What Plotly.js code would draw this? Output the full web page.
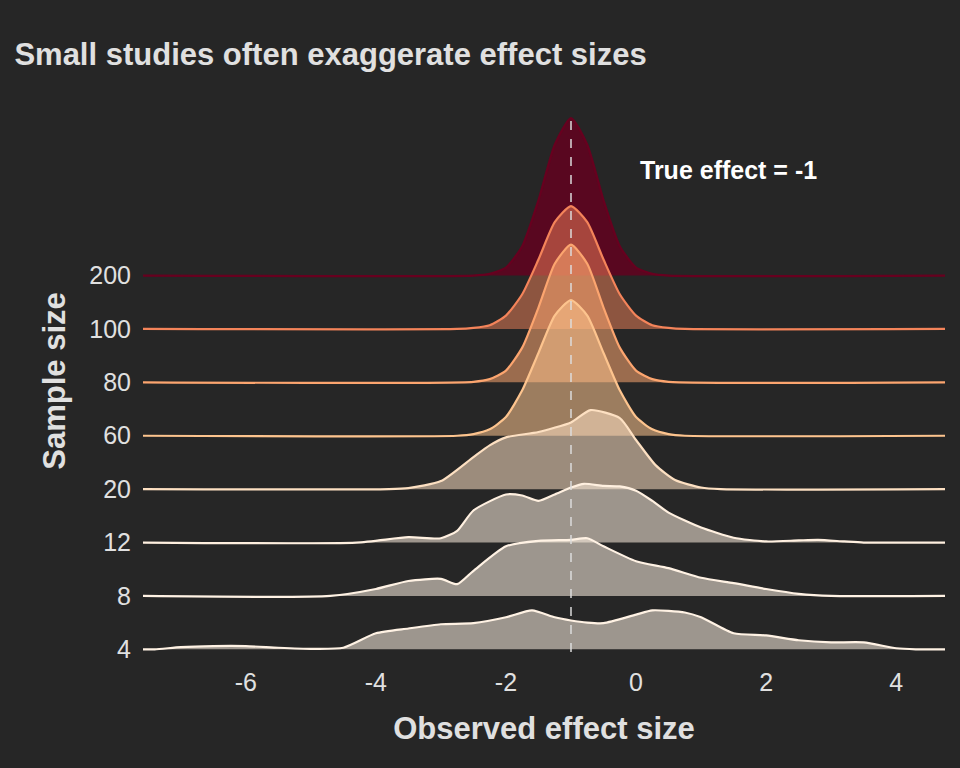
<!DOCTYPE html>
<html><head><meta charset="utf-8">
<script src="https://cdn.plot.ly/plotly-3.0.1.min.js"></script>
<style>body{margin:0;background:#262626}</style></head>
<body><div id="c" style="width:960px;height:768px"></div>
<script>
const sampleSizes = ["4","8","12","20","60","80","100","200"];
const xTickVals = [-6,-4,-2,0,2,4];
const xTickText = ["-6","-4","-2","0","2","4"];
const lineColors = ["#fff2e4","#fff2e4","#fff0e0","#fde0c2","#fdc48e","#fca56f","#f4845a","#67001f"];
const fillColors = ["rgba(255,242,228,0.55)","rgba(255,242,228,0.55)","rgba(255,240,224,0.55)","rgba(253,224,194,0.55)","rgba(253,196,142,0.55)","rgba(252,165,111,0.55)","rgba(244,132,90,0.5)","rgba(103,0,31,0.8)"];
const dens4x = [-7.6,-7.4,-7,-6.5,-6,-5.5,-5,-4.5,-4,-3.5,-3,-2.5,-2,-1.6,-1.25,-1,-0.75,-0.5,0,0.25,0.75,1,1.5,2,2.5,3,3.5,4,4.3,4.75];
const dens4y = [0,0,0.04,0.06,0.06,0.03,0.01,0.03,0.3,0.39,0.47,0.49,0.6,0.73,0.6,0.54,0.5,0.49,0.65,0.73,0.69,0.6,0.3,0.26,0.17,0.13,0.13,0.02,0,0];
const dens8x = [-7.6,-4.7,-4,-3.5,-3,-2.75,-2.5,-2,-1.5,-1,-0.75,-0.5,0,0.5,1,1.5,2,2.5,3,4.75];
const dens8y = [0,0,0.13,0.28,0.32,0.22,0.47,0.93,1.03,1.05,1.08,0.93,0.65,0.52,0.34,0.24,0.13,0.04,0,0];
const dens12x = [-7.6,-4.3,-3.5,-3,-2.75,-2.5,-2,-1.75,-1.5,-1.25,-1,-0.8,-0.5,-0.25,0,0.25,0.5,1,1.5,2,2.5,2.8,3.2,3.5,4.75];
const dens12y = [0,0,0.1,0.08,0.22,0.6,0.9,0.88,0.78,0.9,1.03,1.1,1.06,1.05,0.97,0.78,0.56,0.28,0.09,0.02,0.04,0.05,0.02,0,0];
const dens20x = [-7.6,-3.8,-3.5,-3,-2.5,-2.25,-2,-1.5,-1,-0.7,-0.25,0,0.3,0.6,1,1.3,4.75];
const dens20y = [0,0,0.02,0.15,0.6,0.82,0.97,1.07,1.25,1.48,1.33,0.92,0.45,0.17,0.03,0,0];
const dens60x = [-7.6,-2.75,-2.5,-2.25,-2,-1.75,-1.5,-1.25,-1,-0.75,-0.5,-0.25,0,0.25,0.5,0.75,4.75];
const dens60y = [0,0,0.03,0.12,0.35,0.85,1.55,2.25,2.54,2.25,1.55,0.85,0.35,0.12,0.03,0,0];
const dens80x = [-7.6,-2.5,-2.25,-2,-1.75,-1.5,-1.25,-1,-0.75,-0.5,-0.25,0,0.25,0.5,4.75];
const dens80y = [0,0.01,0.06,0.22,0.65,1.4,2.22,2.58,2.22,1.4,0.65,0.22,0.06,0.01,0];
const dens100x = [-7.6,-2.75,-2.5,-2.25,-2,-1.75,-1.5,-1.25,-1,-0.75,-0.5,-0.25,0,0.25,0.5,0.75,4.75];
const dens100y = [0,0,0.02,0.07,0.25,0.65,1.3,2.0,2.3,2.0,1.3,0.65,0.25,0.07,0.02,0,0];
const dens200x = [-7.6,-2.5,-2.25,-2,-1.75,-1.5,-1.25,-1,-0.75,-0.5,-0.25,0,0.25,0.5,4.75];
const dens200y = [0,0,0.03,0.15,0.55,1.41,2.45,2.95,2.45,1.41,0.55,0.15,0.03,0,0];
const densX = [dens4x,dens8x,dens12x,dens20x,dens60x,dens80x,dens100x,dens200x];
const densY = [dens4y,dens8y,dens12y,dens20y,dens60y,dens80y,dens100y,dens200y];
const trueEffect = -1;

const traces = [];
for (let i = sampleSizes.length-1; i >= 0; i--) {
  const xs = densX[i], ys = densY[i].map(v => v + i);
  traces.push({x: xs, y: ys, mode:'lines', line:{color:lineColors[i], width:2.2, shape:'spline', smoothing:0.6},
    fill:'toself', fillcolor:fillColors[i], hoverinfo:'skip', showlegend:false});
}
const txt = '#e0e0e0';
Plotly.newPlot('c', traces, {
  width:960, height:768, paper_bgcolor:'#262626', plot_bgcolor:'#262626',
  margin:{l:143, r:15, t:110, b:116},
  font:{family:'Liberation Sans, Arial, sans-serif', color:txt},
  title:{text:'<b>Small studies often exaggerate effect sizes</b>', x:0.015, xanchor:'left', y:0.943, font:{size:31, color:txt}},
  xaxis:{range:[-7.58,4.75], tickvals:xTickVals, ticktext:xTickText, showgrid:false, zeroline:false, showline:false, ticks:'outside', ticklen:8, tickcolor:'rgba(0,0,0,0)',
    tickfont:{size:25, color:txt}, title:{text:'<b>Observed effect size</b>', font:{size:31, color:txt}, standoff:22}},
  yaxis:{range:[-0.05,10.1], tickvals:sampleSizes.map((s,i)=>i), ticktext:sampleSizes, showgrid:false, zeroline:false, ticks:'outside', ticklen:6, tickcolor:'rgba(0,0,0,0)',
    tickfont:{size:25, color:txt}, title:{text:'<b>Sample size</b>', font:{size:31, color:txt}, standoff:14}},
  shapes:[{type:'line', xref:'x', yref:'y', x0:trueEffect, x1:trueEffect, y0:-0.05, y1:9.95, line:{color:'rgba(220,220,220,0.75)', width:2, dash:'dash'}}],
  annotations:[{x:1.42, y:8.98, xref:'x', yref:'y', text:'<b>True effect = -1</b>', showarrow:false, font:{size:25, color:'#ffffff'}}]
}, {displayModeBar:false});
</script></body></html>
